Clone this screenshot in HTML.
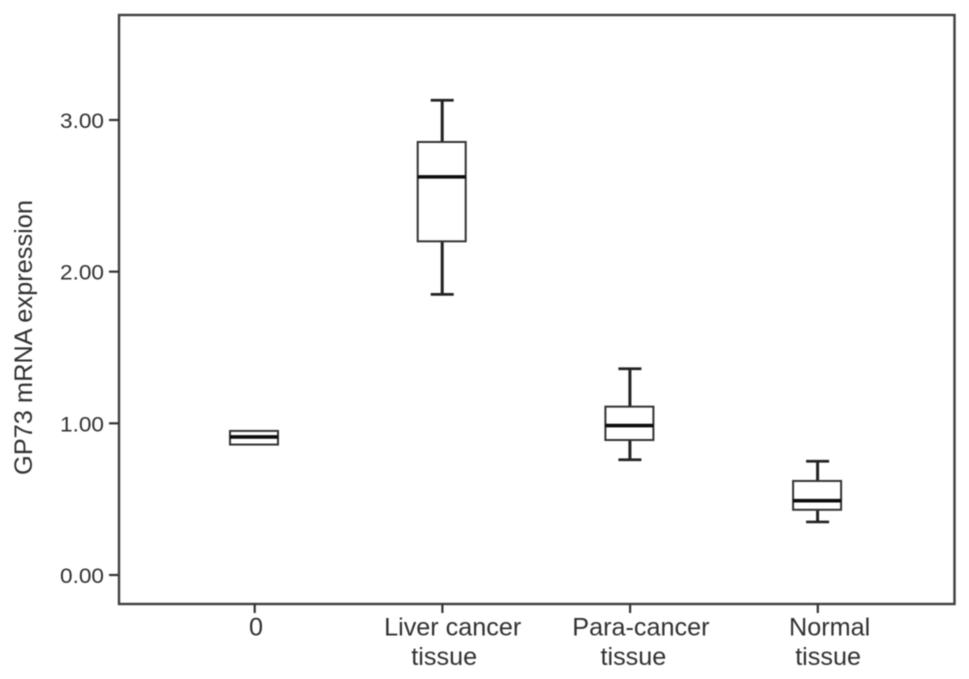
<!DOCTYPE html>
<html>
<head>
<meta charset="utf-8">
<title>GP73 mRNA expression</title>
<style>
html,body{margin:0;padding:0;background:#fff;}
svg{display:block;}
text{font-family:"Liberation Sans",sans-serif;fill:#303030;}
</style>
</head>
<body>
<svg id="chart" width="969" height="679" viewBox="0 0 969 679" xmlns="http://www.w3.org/2000/svg" style="filter:blur(0.45px)"></svg>
<script>
const categories = [["0"], ["Liver cancer", "tissue"], ["Para-cancer", "tissue"], ["Normal", "tissue"]];
const whiskerHigh = [0.95, 3.13, 1.36, 0.75];
const q3Values = [0.95, 2.855, 1.11, 0.62];
const medians = [0.91, 2.625, 0.985, 0.49];
const q1Values = [0.86, 2.20, 0.89, 0.43];
const whiskerLow = [0.86, 1.85, 0.76, 0.35];
const yTicks = [0, 1, 2, 3];
const yTickLabels = ["0.00", "1.00", "2.00", "3.00"];

const svg = document.getElementById('chart');
const NS = 'http://www.w3.org/2000/svg';
const frame = {left: 119, top: 15, right: 954.5, bottom: 604};
const yScale = v => 575 - v * 151.67;
const xScale = i => 254 + i * 187.7;

function add(tag, attrs, parent, txt) {
  const el = document.createElementNS(NS, tag);
  for (const k in attrs) el.setAttribute(k, attrs[k]);
  if (txt !== undefined) el.textContent = txt;
  (parent || svg).appendChild(el);
  return el;
}
const AX = '#3f3f3f';

function labelNudge(i, j) {
  if (i === 0) return 2;
  if (j === 1) return i === 1 ? 2.5 : (i === 2 ? 4 : 11);
  return i === 1 ? 11 : (i === 2 ? 11.5 : 12.5);
}

const plotFrame = add('rect', {x: frame.left, y: frame.top, width: frame.right - frame.left, height: frame.bottom - frame.top, fill: '#fff', stroke: AX, 'stroke-width': 2.4});



yTicks.forEach((t, i) => {
  const g = add('g', {});
  
  
  add('line', {x1: 109, x2: frame.left, y1: yScale(t), y2: yScale(t), stroke: '#333', 'stroke-width': 2.2}, g);
  add('text', {x: 104, y: yScale(t) + 8, 'text-anchor': 'end', 'font-size': 21.5, textLength: 44, lengthAdjust: 'spacingAndGlyphs'}, g, yTickLabels[i]);
});

categories.forEach((lines, i) => {
  const cx = xScale(i);
  const g = add('g', {});
  
  
  add('line', {x1: cx + 0.7, x2: cx + 0.7, y1: frame.bottom, y2: 613, stroke: '#333', 'stroke-width': 2.2}, g);
  lines.forEach((line, j) => {
    add('text', {x: cx + labelNudge(i, j), y: 635.5 + j * 29.5, 'text-anchor': 'middle', 'font-size': 25.2}, g, line);
  });
});

const yTitle = add('text', {transform: 'translate(32,475) rotate(-90)', 'font-size': 25, textLength: 275, lengthAdjust: 'spacingAndGlyphs'}, svg, 'GP73 mRNA expression');



categories.forEach((lines, i) => {
  const cx = xScale(i);
  const hw = 24;
  const capHw = 11;
  const g = add('g', {});
  
  
  if (whiskerHigh[i] > q3Values[i]) {
    add('line', {x1: cx + 0.5, x2: cx + 0.5, y1: yScale(whiskerHigh[i]), y2: yScale(q3Values[i]), stroke: '#222', 'stroke-width': 3}, g);
    add('line', {x1: cx - capHw, x2: cx + capHw + 1, y1: yScale(whiskerHigh[i]), y2: yScale(whiskerHigh[i]), stroke: '#222', 'stroke-width': 2.7}, g);
  }
  if (whiskerLow[i] < q1Values[i]) {
    add('line', {x1: cx + 0.5, x2: cx + 0.5, y1: yScale(q1Values[i]), y2: yScale(whiskerLow[i]), stroke: '#222', 'stroke-width': 3}, g);
    add('line', {x1: cx - capHw, x2: cx + capHw + 1, y1: yScale(whiskerLow[i]), y2: yScale(whiskerLow[i]), stroke: '#222', 'stroke-width': 2.7}, g);
  }
  add('rect', {x: cx - hw, y: yScale(q3Values[i]), width: hw * 2, height: yScale(q1Values[i]) - yScale(q3Values[i]), fill: '#fff', stroke: '#333', 'stroke-width': 2}, g);
  add('line', {x1: cx - hw, x2: cx + hw, y1: yScale(medians[i]), y2: yScale(medians[i]), stroke: '#0c0c0c', 'stroke-width': 3.6}, g);
});
</script>
</body>
</html>
